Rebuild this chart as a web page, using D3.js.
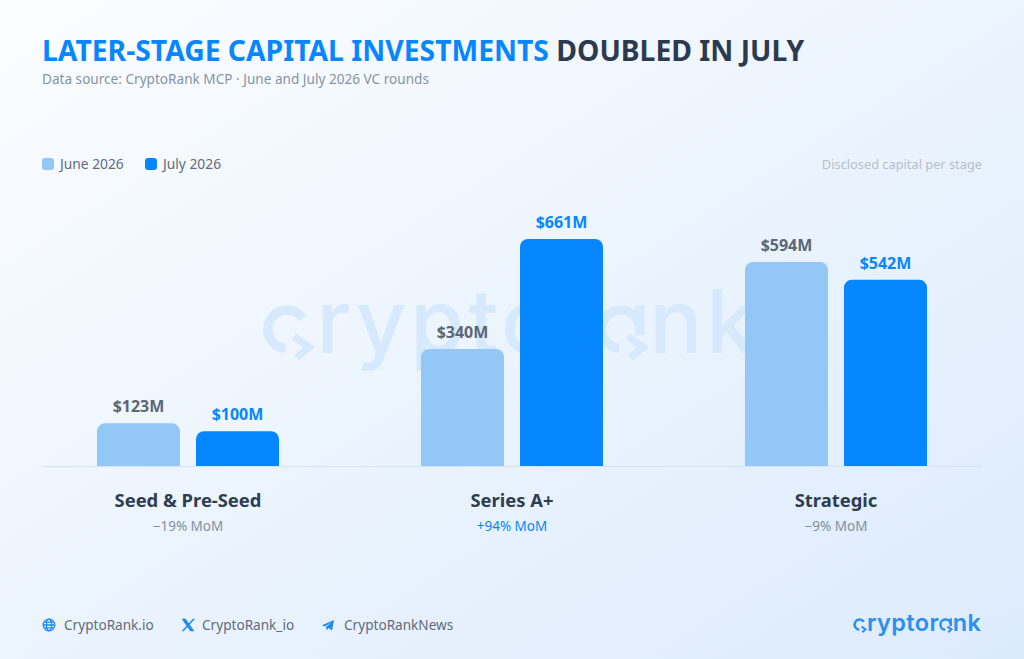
<!DOCTYPE html>
<html>
<head>
  <meta charset="utf-8">
  <title>Later-stage capital investments doubled in July</title>
  <script src="https://d3js.org/d3.v7.min.js"></script>
  <style>
    html, body { margin: 0; padding: 0; overflow: hidden; }
    svg { display: block; font-family: "Noto Sans", sans-serif; }
    .tick line { display: none; }
  </style>
</head>
<body>
  <script>
    const stages = ["Seed & Pre-Seed", "Series A+", "Strategic"];
    const months = ["June 2026", "July 2026"];
    const june = [123, 340, 594];
    const july = [100, 661, 542];
    const changes = ["−19% MoM", "+94% MoM", "−9% MoM"];
    const socials = ["CryptoRank.io", "CryptoRank_io", "CryptoRankNews"];

    const width = 1024;
    const height = 659;
    const baseline = 466;
    const blue = "#0787ff";
    const paleBlue = "#93c8f6";

    const svg = d3.select("body").append("svg")
      .attr("width", width)
      .attr("height", height);

    // Page background
    const grad = svg.append("defs").append("linearGradient")
      .attr("id", "bg")
      .attr("x1", 0).attr("y1", 0).attr("x2", 1).attr("y2", 1);
    grad.append("stop").attr("offset", "0%").attr("stop-color", "#fbfdff");
    grad.append("stop").attr("offset", "100%").attr("stop-color", "#dcebfc");
    svg.append("rect").attr("width", width).attr("height", height).attr("fill", "url(#bg)");

    // Logo: the c and a are redrawn with an arrow, the rest is plain text
    function logo(x, y, size, spacing, color, weight) {
      const g = svg.append("g").attr("fill", color);
      const text = g.append("text")
        .attr("x", x).attr("y", y)
        .style("font-family", "Inter")
        .style("font-size", size + "px")
        .style("font-weight", weight)
        .style("letter-spacing", spacing + "px");
      "cryptorank".split("").forEach(ch => {
        text.append("tspan").text(ch).attr("fill-opacity", ch === "c" || ch === "a" ? 0 : 1);
      });
      const node = text.node();
      const sw = size * 0.105;
      [0, 7].forEach(i => {
        const box = node.getExtentOfChar(i);
        const xh = size * 0.54;
        const r = (xh - sw) / 2;
        const cx = box.x + size * 0.015 + r + sw / 2;
        const cy = y - xh / 2;
        const a0 = (i === 7 ? -10 : -35) * Math.PI / 180, a1 = 95 * Math.PI / 180;
        const shape = d3.path();
        shape.arc(cx, cy, r, a0, a1, true);
        g.append("path").attr("d", shape.toString())
          .attr("fill", "none").attr("stroke", color).attr("stroke-width", sw);
        const tipX = cx + r * 1.15, tipY = y - size * 0.067;
        g.append("path")
          .attr("d", `M${tipX - size * 0.17},${tipY - size * 0.12} L${tipX},${tipY} L${tipX - size * 0.14},${tipY + size * 0.12}`)
          .attr("fill", "none").attr("stroke", color).attr("stroke-width", sw * 0.8);
        if (i === 7) {
          g.append("rect")
            .attr("x", cx + r + sw / 2 - sw).attr("y", y - xh)
            .attr("width", sw).attr("height", xh * 0.62);
        }
      });
      return g;
    }

    logo(262, 353, 88, 3.8, "#d6e9fd", 500);

    // Title
    const title = svg.append("text")
      .attr("x", 42).attr("y", 61)
      .style("font-size", "28.3px")
      .style("font-weight", 700);
    title.append("tspan").attr("fill", blue).text("LATER-STAGE CAPITAL INVESTMENTS");
    title.append("tspan").attr("fill", "#2c3a4f").text(" DOUBLED IN JULY");

    svg.append("text")
      .attr("x", 42).attr("y", 84)
      .attr("fill", "#8793a4")
      .style("font-size", "13.6px")
      .text("Data source: CryptoRank MCP · June and July 2026 VC rounds");

    // Legend
    const legendX = [42, 145];
    const legendColors = [paleBlue, blue];
    months.forEach((m, i) => {
      svg.append("rect")
        .attr("x", legendX[i]).attr("y", 158)
        .attr("width", 12).attr("height", 12).attr("rx", 3)
        .attr("fill", legendColors[i]);
      svg.append("text")
        .attr("x", legendX[i] + 18).attr("y", 169)
        .attr("fill", "#5f6b7c")
        .style("font-size", "13.8px")
        .text(m);
    });

    svg.append("text")
      .attr("x", 982).attr("y", 169)
      .attr("text-anchor", "end")
      .attr("fill", "#b7bfcb")
      .style("font-size", "12.8px")
      .text("Disclosed capital per stage");

    // Scales
    const x0 = d3.scaleBand().domain(stages).range([26, 998]);
    const x1 = d3.scaleBand().domain(months).range([0, 182]).paddingInner(16 / 99);
    const y = d3.scaleLinear().domain([0, 661]).range([465.5, 239]);
    const groupLeft = s => x0(s) + (x0.bandwidth() - x1.range()[1]) / 2;

    function topRounded(px, py, w, r) {
      const p = d3.path();
      p.moveTo(px, baseline);
      p.lineTo(px, py + r);
      p.arcTo(px, py, px + r, py, r);
      p.lineTo(px + w - r, py);
      p.arcTo(px + w, py, px + w, py + r, r);
      p.lineTo(px + w, baseline);
      p.closePath();
      return p.toString();
    }

    // Bars and value labels
    const series = [
      { month: months[0], values: june, fill: paleBlue, label: "#5b6677" },
      { month: months[1], values: july, fill: blue, label: blue }
    ];
    series.forEach(s => {
      const g = svg.append("g");
      g.selectAll("path")
        .data(stages)
        .join("path")
        .attr("d", (d, i) => topRounded(groupLeft(d) + x1(s.month), y(s.values[i]), x1.bandwidth(), 8))
        .attr("fill", s.fill);
      g.selectAll("text")
        .data(stages)
        .join("text")
        .attr("x", d => groupLeft(d) + x1(s.month) + x1.bandwidth() / 2)
        .attr("y", (d, i) => y(s.values[i]) - 11)
        .attr("text-anchor", "middle")
        .attr("fill", s.label)
        .style("font-size", "16px")
        .style("font-weight", 700)
        .text((d, i) => "$" + s.values[i] + "M");
    });

    svg.append("line")
      .attr("x1", 42).attr("x2", 982)
      .attr("y1", baseline + 0.5).attr("y2", baseline + 0.5)
      .attr("stroke", "#d3e4f6");

    // Category axis
    const axis = svg.append("g")
      .attr("transform", `translate(0,${baseline})`)
      .call(d3.axisBottom(x0).tickSize(0).tickPadding(28));
    axis.select(".domain").remove();
    axis.selectAll("text")
      .attr("fill", "#2f3d51")
      .style("font-family", "Noto Sans")
      .style("font-size", "18.4px")
      .style("font-weight", 700);

    svg.append("g").selectAll("text")
      .data(stages)
      .join("text")
      .attr("x", d => x0(d) + x0.bandwidth() / 2)
      .attr("y", 531)
      .attr("text-anchor", "middle")
      .attr("fill", (d, i) => changes[i].startsWith("+") ? blue : "#8390a1")
      .style("font-size", "13.5px")
      .text((d, i) => changes[i]);

    // Footer
    const footerIcon = "#1f8bf0";
    const footerX = [64, 202, 344];
    svg.append("g").selectAll("text")
      .data(socials)
      .join("text")
      .attr("x", (d, i) => footerX[i])
      .attr("y", 630)
      .attr("fill", "#5f6b7c")
      .style("font-size", "13.6px")
      .text(d => d);

    const globe = svg.append("g")
      .attr("transform", "translate(49,625)")
      .attr("fill", "none").attr("stroke", footerIcon).attr("stroke-width", 1.3);
    globe.append("circle").attr("r", 5.8);
    globe.append("ellipse").attr("rx", 2.6).attr("ry", 5.8);
    globe.append("path").attr("d", "M-5.8,0H5.8M-5,-2.8H5M-5,2.8H5");

    svg.append("path")
      .attr("transform", "translate(182,619)")
      .attr("d", "M0,0H3.6L12,12H8.4ZM11,0H12.6L1.6,12H0Z")
      .attr("fill", footerIcon)
      .attr("stroke", footerIcon).attr("stroke-width", 0.5);

    svg.append("path")
      .attr("transform", "translate(322,620)")
      .attr("d", "M0,5.2L12,0L10,10.5L6.4,8L4.6,10.5L4,7L9,2.6L2.8,6.4Z")
      .attr("fill", footerIcon);

    logo(853, 631, 23.5, 0.35, "#2a90f0", 600);
  </script>
</body>
</html>
